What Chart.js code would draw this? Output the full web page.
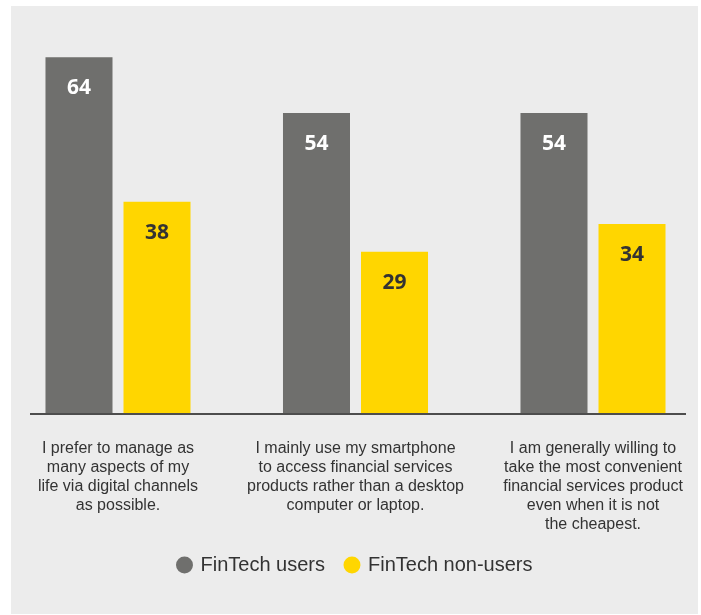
<!DOCTYPE html>
<html>
<head>
<meta charset="utf-8">
<style>
  html, body { margin: 0; padding: 0; background: #fff; }
  #wrap { width: 701px; height: 615px; }
</style>
<script src="https://cdn.jsdelivr.net/npm/chart.js@4.4.1/dist/chart.umd.min.js"></script>
</head>
<body>
<div id="wrap"><canvas id="chart" width="701" height="615"></canvas></div>
<script>
// ---- Data ----------------------------------------------------------------
const categories = [
  ["I prefer to manage as", "many aspects of my", "life via digital channels", "as possible."],
  ["I mainly use my smartphone", "to access financial services", "products rather than a desktop", "computer or laptop."],
  ["I am generally willing to", "take the most convenient", "financial services product", "even when it is not", "the cheapest."]
];
const seriesNames = ["FinTech users", "FinTech non-users"];
const usersValues = [64, 54, 54];
const nonUsersValues = [38, 29, 34];
const yMax = 70;

// ---- Colours -------------------------------------------------------------
const cGray = "#6f6f6d";
const cYellow = "#ffd600";
const cText = "#333333";

// panel background + baseline
const panelPlugin = {
  id: "panel",
  beforeDraw(chart) {
    const ctx = chart.ctx;
    ctx.save();
    ctx.fillStyle = "#ececec";
    ctx.fillRect(11, 6, 687, 608);
    ctx.restore();
  },
  afterDatasetsDraw(chart) {
    const ctx = chart.ctx;
    const y = chart.scales.y.getPixelForValue(0);
    ctx.save();
    ctx.strokeStyle = "#4d4d4d";
    ctx.lineWidth = 2;
    ctx.beginPath();
    ctx.moveTo(30, y + 1);
    ctx.lineTo(686, y + 1);
    ctx.stroke();
    ctx.restore();
  }
};

// value labels inside the bar tops
const valuePlugin = {
  id: "values",
  afterDatasetsDraw(chart) {
    const ctx = chart.ctx;
    ctx.save();
    ctx.font = "bold 21px 'Open Sans', sans-serif";
    ctx.textAlign = "center";
    ctx.textBaseline = "middle";
    chart.data.datasets.forEach((ds, i) => {
      const meta = chart.getDatasetMeta(i);
      ctx.fillStyle = i === 0 ? "#ffffff" : cText;
      meta.data.forEach((bar, j) => {
        ctx.fillText(String(ds.data[j]), bar.x, bar.y + 31);
      });
    });
    ctx.restore();
  }
};

new Chart(document.getElementById("chart"), {
  type: "bar",
  data: {
    labels: categories,
    datasets: [
      { label: seriesNames[0], data: usersValues, backgroundColor: cGray, clip: false },
      { label: seriesNames[1], data: nonUsersValues, backgroundColor: cYellow, clip: false }
    ]
  },
  options: {
    responsive: false,
    animation: false,
    categoryPercentage: 0.657,
    barPercentage: 0.859,
    layout: { padding: { left: 118, right: 108, top: 24, bottom: 30 } },
    plugins: {
      legend: {
        position: "bottom",
        labels: {
          usePointStyle: true,
          pointStyle: "circle",
          boxWidth: 12,
          boxHeight: 12,
          padding: 21,
          color: cText,
          font: { family: "'Liberation Sans', sans-serif", size: 20 }
        }
      },
      tooltip: { enabled: false }
    },
    scales: {
      x: {
        offset: false,
        grid: { display: false, drawTicks: false },
        border: { display: false },
        ticks: {
          padding: 26,
          color: cText,
          maxRotation: 0,
          autoSkip: false,
          font: { family: "'Liberation Sans', sans-serif", size: 16, lineHeight: 1.19 }
        },
        // fixed axis height so the plot bottom lands on the baseline
        afterFit: (s) => {
          s.height = 121;
          s.paddingLeft = 0;
          s.paddingRight = 0;
        }
      },
      y: {
        display: false,
        min: 0,
        max: yMax
      }
    }
  },
  plugins: [panelPlugin, valuePlugin]
});
</script>
</body>
</html>
